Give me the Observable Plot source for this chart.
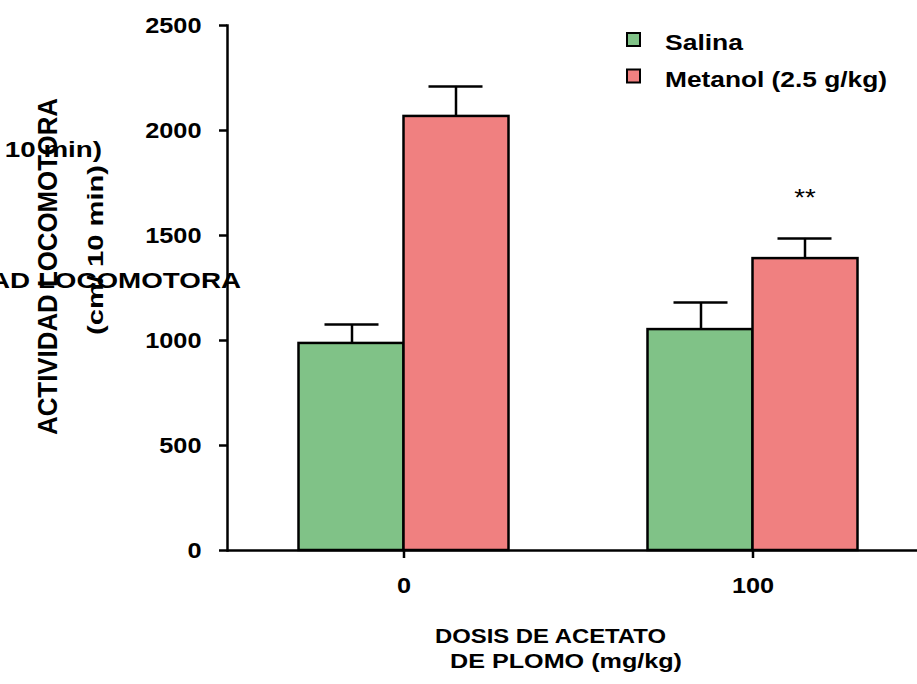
<!DOCTYPE html>
<html><head><meta charset="utf-8">
<script src="https://cdn.jsdelivr.net/npm/d3@7"></script>
<script src="https://cdn.jsdelivr.net/npm/@observablehq/plot@0.6"></script>
<style>
body{margin:0;background:#fff;}
#chart{position:relative;width:917px;height:684px;}
</style></head><body><div id="chart"></div>
<script>
const doses = [0, 100];
const seriesNames = ["Salina", "Metanol (2.5 g/kg)"];
const seriesColors = ["#80c287", "#f08080"];
const salinaMean = [986, 1052];
const salinaSem = [90, 129];
const metanolMean = [2067, 1390];
const metanolSem = [143, 96];
const yTicks = [0, 500, 1000, 1500, 2000, 2500];
const sigMarks = [{dose: 100, label: "**", y: 1676}];
const yLabelLines = ["ACTIVIDAD LOCOMOTORA", "(cm/ 10 min)"];
const xLabelLines = ["DOSIS DE ACETATO", "DE PLOMO (mg/kg)"];

const rows = doses.flatMap((d, i) => [
  {dose: d, series: seriesNames[0], mean: salinaMean[i], sem: salinaSem[i]},
  {dose: d, series: seriesNames[1], mean: metanolMean[i], sem: metanolSem[i]}
]);
const sal = rows.filter(r => r.series === seriesNames[0]);
const met = rows.filter(r => r.series === seriesNames[1]);

const FONT = "'Liberation Sans', Arial, sans-serif";
const half = 174.5, barW = 105, off = 52, cap = 27, SW = 2.5;

const plot = Plot.plot({
  width: 917, height: 684,
  marginLeft: 227, marginRight: 0, marginTop: 25, marginBottom: 134,
  style: {fontFamily: FONT, fontWeight: "bold", fontSize: "22px", color: "black", background: "white"},
  x: {type: "band", domain: doses, range: [228.5, 926.5], padding: 0},
  y: {domain: [0, 2500]},
  color: {domain: seriesNames, range: seriesColors},
  marks: [
    Plot.barY(sal, {x: "dose", y: "mean", fill: "series", stroke: "black", strokeWidth: SW, insetLeft: half - barW, insetRight: half}),
    Plot.barY(met, {x: "dose", y: "mean", fill: "series", stroke: "black", strokeWidth: SW, insetLeft: half, insetRight: half - barW}),
    Plot.ruleX(sal, {x: "dose", y1: "mean", y2: d => d.mean + d.sem, dx: -off, strokeWidth: SW}),
    Plot.ruleX(met, {x: "dose", y1: "mean", y2: d => d.mean + d.sem, dx: off, strokeWidth: SW}),
    Plot.tickY(sal, {x: "dose", y: d => d.mean + d.sem, insetLeft: half - off - cap, insetRight: half + off - cap, strokeWidth: SW}),
    Plot.tickY(met, {x: "dose", y: d => d.mean + d.sem, insetLeft: half + off - cap, insetRight: half - off - cap, strokeWidth: SW}),
    Plot.text(sigMarks, {x: "dose", y: "y", text: "label", dx: off, fontSize: 24, fontWeight: "normal"}),
    Plot.ruleY([0], {strokeWidth: SW}),
    Plot.frame({anchor: "left", strokeWidth: SW}),
    Plot.axisY({ticks: yTicks, tickSize: 8, tickPadding: 18, strokeWidth: SW, fontSize: 22, fontWeight: "bold", label: null, tickFormat: d3.format("d")}),
    Plot.axisX({tickSize: 8, tickPadding: 19, strokeWidth: SW, fontSize: 22, fontWeight: "bold", label: null, tickFormat: d => String(d)})
  ]
});
document.getElementById("chart").appendChild(plot);

const svg = d3.select(plot);
// stretch library texts horizontally like the reference
svg.selectAll("text").each(function() {
  const L = this.getComputedTextLength();
  if (L > 0) { this.setAttribute("textLength", L * 1.15); this.setAttribute("lengthAdjust", "spacingAndGlyphs"); }
});

function addText(str, opts) {
  const t = svg.append("text").text(str)
    .attr("font-family", FONT).attr("font-weight", opts.weight || "bold")
    .attr("font-size", opts.size).attr("fill", "black")
    .attr("text-anchor", opts.anchor || "start")
    .attr("transform", opts.transform);
  if (opts.len) t.attr("textLength", opts.len).attr("lengthAdjust", "spacingAndGlyphs");
  return t;
}
// rotated y label lines
addText(yLabelLines[0], {size: 27, transform: "translate(57,435) rotate(-90)", len: 337});
addText(yLabelLines[1], {size: 22, transform: "translate(103,335) rotate(-90)", len: 170});
// overlapping horizontal copies
addText(yLabelLines[1], {size: 22, anchor: "end", transform: "translate(102,157)", len: 162});
addText(yLabelLines[0], {size: 22, anchor: "end", transform: "translate(241,288)", len: 362});
// x label
addText(xLabelLines[0], {size: 21, transform: "translate(435,643)", len: 231});
addText(xLabelLines[1], {size: 21, transform: "translate(450,668)", len: 232});
// legend
const color = plot.scale("color");
const legendLens = [78, 222];
seriesNames.forEach((name, i) => {
  const y0 = 33 + i * 36.5;
  svg.append("rect").attr("x", 627).attr("y", y0).attr("width", 13).attr("height", 13)
    .attr("fill", color.range[i]).attr("stroke", "black").attr("stroke-width", 2);
  addText(name, {size: 22, transform: `translate(665,${y0 + 17})`, len: legendLens[i]});
});
</script></body></html>
